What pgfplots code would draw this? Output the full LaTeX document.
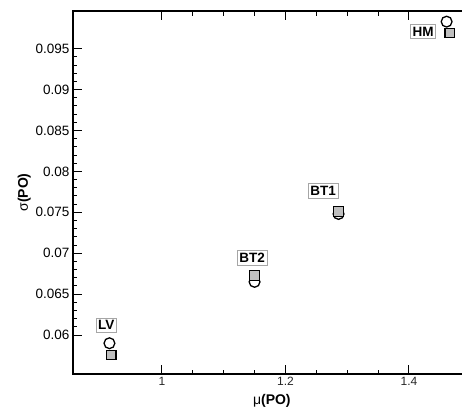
\documentclass[border=0pt]{standalone}
\usepackage{fontspec}
\setmainfont{Liberation Sans}
\usepackage{pgfplots}
\pgfplotsset{compat=1.18}
\begin{document}
\begin{tikzpicture}
\begin{axis}[
  name=ax,
  scale only axis, width=397.7pt, height=363pt,
  xmin=0.856, xmax=1.5, ymin=0.05524, ymax=0.0996,
  xtick={1,1.2,1.4}, xticklabels={1,1.2,1.4},
  ytick={0.06,0.065,0.07,0.075,0.08,0.085,0.09,0.095},
  yticklabels={0.06,0.065,0.07,0.075,0.08,0.085,0.09,0.095},
  scaled y ticks=false, scaled x ticks=false,
  minor x tick num=3, minor y tick num=4,
  tick align=inside, major tick length=9pt, minor tick length=4.5pt,
  axis line style={line width=1.3pt},
  every tick/.style={black, line width=1pt},
  /pgf/number format/assume math mode=true,
  xticklabel style={font=\fontsize{12}{12}\selectfont, text=black!85},
  yticklabel style={font=\fontsize{13.5}{13.5}\selectfont},
  xlabel={\fontsize{14}{14}\selectfont μ\textbf{(PO)}},
  ylabel={\fontsize{14}{14}\selectfont σ\textbf{(PO)}},
  ylabel shift=-2pt, xlabel shift=1.5pt,
  clip=false,
]
\addplot[only marks, mark=o, mark size=5.4pt, mark options={line width=1.3pt, draw=black, fill=white}] coordinates {
  (0.915,0.0590) (1.150,0.0665) (1.286,0.0748) (1.461,0.0983)};
\addplot[only marks, mark=square*, mark size=4.8pt, mark options={fill=black!25, draw=black, line width=1.2pt}] coordinates {
  (0.918,0.05756) (1.150,0.0673) (1.286,0.0751) (1.466,0.0969)};
\tikzset{lab/.style={draw=gray!70, line width=0.7pt, fill=white, inner xsep=2.2pt, inner ysep=2.6pt, font=\bfseries\fontsize{13.5}{13.5}\selectfont}}
\node[lab] at (axis cs:0.910,0.0612) {LV};
\node[lab] at (axis cs:1.146,0.06945) {BT2};
\node[lab] at (axis cs:1.261,0.07762) {BT1};
\node[lab] at (axis cs:1.423,0.0971) {HM};
\end{axis}
\pgfresetboundingbox
\path ([shift={(-73pt,-36pt)}]ax.south west) rectangle ([shift={(389pt,11pt)}]ax.north west);
\end{tikzpicture}
\end{document}
